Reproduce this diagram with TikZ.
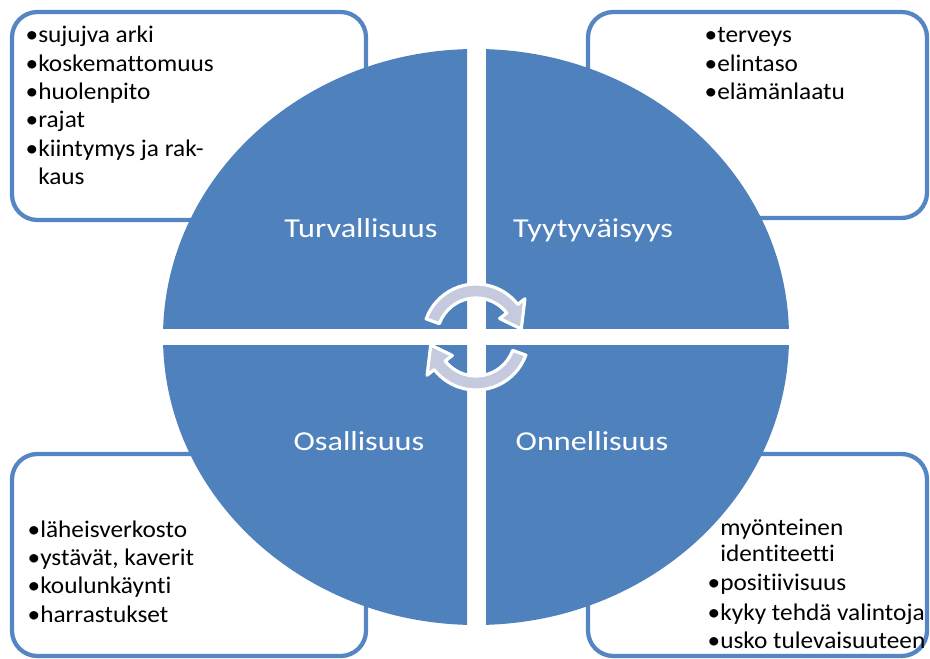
\documentclass[tikz,border=0pt]{standalone}
\usepackage{fontspec}
\setmainfont{Carlito}[FakeStretch=1.06,Ligatures={NoCommon}]
\newfontfamily\labfont{Carlito}[FakeStretch=1.18,Ligatures={NoCommon}]
\definecolor{qblue}{HTML}{4F81BD}
\definecolor{bblue}{HTML}{5585C2}
\definecolor{arrfill}{HTML}{C6CADF}
\newcommand\bul{\llap{•}}
\begin{document}
\begin{tikzpicture}[x=0.75pt,y=-0.75pt,
  box/.style={draw=bblue, line width=3.2pt, fill=white, rounded corners=19pt},
  quad/.style={fill=qblue},
  lab/.style={text=white, font=\labfont\fontsize{20.5}{24}\selectfont, anchor=base, inner sep=0pt},
  item/.style={font=\fontsize{17.9}{21}\selectfont, anchor=base west, inner sep=0pt, text=black},
  cyc/.style={fill=arrfill, draw=white, line width=2.4pt, line join=round}]
\useasboundingbox (0,0) rectangle (930,659);
% boxes
\draw[box] (12,12) rectangle (366,220);
\draw[box] (588,12) rectangle (927,218);
\draw[box] (12,454) rectangle (366,656);
\draw[box] (588,454) rectangle (927,656);
% quadrants
\begin{scope}
\clip (150,0) rectangle (467,328);
\fill[quad] (476,337) ellipse [x radius=313, y radius=288];
\end{scope}
\begin{scope}
\clip (486,0) rectangle (800,328);
\fill[quad] (476,337) ellipse [x radius=313, y radius=288];
\end{scope}
\begin{scope}
\clip (150,345) rectangle (467,659);
\fill[quad] (476,337) ellipse [x radius=313, y radius=288];
\end{scope}
\begin{scope}
\clip (486,345) rectangle (800,659);
\fill[quad] (476,337) ellipse [x radius=313, y radius=288];
\end{scope}
% cycle arrows
\begin{scope}[shift={(476,337)}]
\filldraw[cyc] (-160:53) arc[start angle=-160, end angle=-38, radius=53] -- (-38:62) -- (-10:46) -- (-38:30) -- (-38:39) arc[start angle=-38, end angle=-160, radius=39] -- cycle;
\filldraw[cyc] (20:53) arc[start angle=20, end angle=142, radius=53] -- (142:62) -- (170:46) -- (142:30) -- (142:39) arc[start angle=142, end angle=20, radius=39] -- cycle;
\end{scope}
% labels
\node[lab] (turv) at (361,238) {Turvallisuus};
\node[lab] (tyyt) at (593,238) {Tyytyväisyys};
\node[lab] (osal) at (359,450) {Osallisuus};
\node[lab] (onne) at (592,450) {Onnellisuus};
% top-left items
\node[item] (tl1) at (38,43) {\bul sujujva arki};
\node[item] (tl2) at (38,72) {\bul koskemattomuus};
\node[item] (tl3) at (38,100) {\bul huolenpito};
\node[item] (tl4) at (38,128) {\bul rajat};
\node[item] (tl5) at (38,157) {\bul kiintymys ja rak-};
\node[item] (tl6) at (38,185) {kaus};
% top-right items
\node[item] (tr1) at (717,43) {\bul terveys};
\node[item] (tr2) at (717,72) {\bul elintaso};
\node[item] (tr3) at (717,100) {\bul elämänlaatu};
% bottom-left items
\node[item] (bl1) at (40,537) {\bul läheisverkosto};
\node[item] (bl2) at (40,565) {\bul ystävät, kaverit};
\node[item] (bl3) at (40,593) {\bul koulunkäynti};
\node[item] (bl4) at (40,622) {\bul harrastukset};
% bottom-right items
\node[item] (br1) at (720,535) {myönteinen};
\node[item] (br2) at (720,561) {identiteetti};
\node[item] (br3) at (720,590) {\bul positiivisuus};
\node[item] (br4) at (720,620) {\bul kyky tehdä valintoja};
\node[item] (br5) at (720,648) {\bul usko tulevaisuuteen};
\end{tikzpicture}
\end{document}
